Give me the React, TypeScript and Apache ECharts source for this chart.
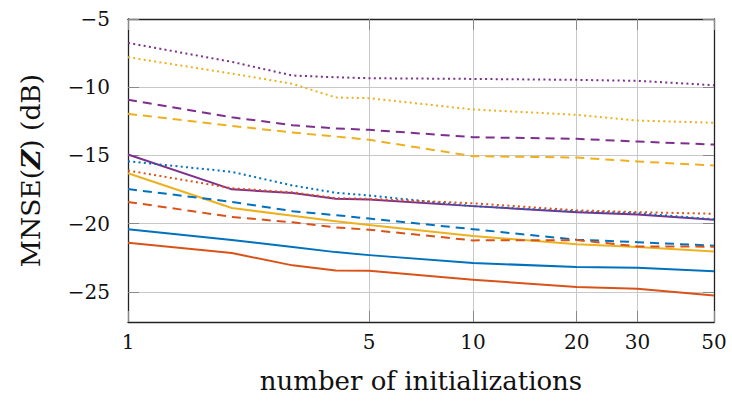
import React, { useEffect, useRef } from "react";
import * as echarts from "echarts";

const xValues = [1, 2, 3, 4, 5, 10, 20, 30, 50];
const xTickValues = [1, 5, 10, 20, 30, 50];
const yTickValues = [-25, -20, -15, -10, -5];

const blueSolid = [-20.4, -21.2, -21.7, -22.08, -22.3, -22.88, -23.17, -23.22, -23.49];
const orangeSolid = [-21.39, -22.15, -23.05, -23.42, -23.45, -24.1, -24.64, -24.76, -25.25];
const yellowSolid = [-16.3, -18.85, -19.42, -19.82, -20.1, -20.9, -21.5, -21.71, -22.03];
const purpleSolid = [-14.93, -17.48, -17.75, -18.17, -18.22, -18.71, -19.15, -19.32, -19.71];

const blueDashed = [-17.46, -18.4, -19.08, -19.37, -19.62, -20.4, -21.17, -21.35, -21.61];
const orangeDashed = [-18.4, -19.5, -19.9, -20.27, -20.44, -21.22, -21.2, -21.66, -21.68];
const yellowDashed = [-11.95, -12.83, -13.32, -13.61, -13.85, -15.05, -15.15, -15.44, -15.73];
const purpleDashed = [-10.92, -12.2, -12.78, -13.02, -13.12, -13.66, -13.78, -13.98, -14.2];

const blueDotted = [-15.42, -16.2, -17.2, -17.73, -17.93, -18.71, -19.1, -19.22, -19.68];
const orangeDotted = [-16.1, -17.4, -17.7, -18.12, -18.18, -18.5, -19.02, -19.15, -19.27];
const yellowDotted = [-7.8, -9.0, -9.75, -10.75, -10.8, -11.63, -12.02, -12.44, -12.6];
const purpleDotted = [-6.75, -8.14, -9.14, -9.27, -9.34, -9.39, -9.46, -9.53, -9.85];

const BLUE = "#0072BD";
const ORANGE = "#D95319";
const YELLOW = "#EDB120";
const PURPLE = "#7E2F8E";

const FONT = "DejaVu Serif";

const fmtMinus = (v: number) => (v < 0 ? "\u2212" + Math.abs(v) : String(v));

function mk(values: number[], color: string, style: "solid" | "dashed" | "dotted") {
  const type =
    style === "solid" ? "solid" : style === "dashed" ? [9, 6] : [2, 3.3];
  return {
    type: "line",
    data: xValues.map((x, i) => [x, values[i]]),
    showSymbol: false,
    symbol: "none",
    lineStyle: { color, width: 2, type, cap: "butt", join: "round" },
    itemStyle: { color },
    z: 3,
  };
}

export default function App() {
  const ref = useRef<HTMLDivElement>(null);
  useEffect(() => {
    if (!ref.current) return;
    const chart = echarts.init(ref.current, undefined, { renderer: "svg" });
    const tickStyle = { show: true, inside: true, length: 11, lineStyle: { color: "#888", width: 1 } };
    const axisLine = { show: true, onZero: false, lineStyle: { color: "#222", width: 1.3 } };
    chart.setOption({
      animation: false,
      backgroundColor: "#fff",
      grid: { left: 128, right: 18, top: 19, bottom: 81, containLabel: false },
      xAxis: [
        {
          type: "log",
          logBase: 10,
          min: 1,
          max: 50,
          axisLine,
          axisTick: { ...tickStyle, customValues: xTickValues },
          axisLabel: {
            customValues: xTickValues,
            fontFamily: FONT,
            fontSize: 20,
            color: "#111",
            margin: 10,
            formatter: (v: number) => String(Math.round(v)),
          },
          splitLine: { show: true, lineStyle: { color: "#c8c8c8", width: 1 } },
          minorSplitLine: { show: false },
          name: "number of initializations",
          nameLocation: "middle",
          nameGap: 46,
          nameTextStyle: { fontFamily: FONT, fontSize: 26, color: "#111" },
        },
        {
          type: "log",
          logBase: 10,
          min: 1,
          max: 50,
          position: "top",
          axisLine,
          axisTick: { ...tickStyle, customValues: xTickValues },
          axisLabel: { show: false },
          splitLine: { show: false },
        },
      ],
      yAxis: [
        {
          type: "value",
          min: -27.2,
          max: -5,
          axisLine,
          axisTick: { ...tickStyle, customValues: yTickValues },
          axisLabel: {
            customValues: yTickValues,
            fontFamily: FONT,
            fontSize: 20,
            color: "#111",
            margin: 18,
            formatter: (v: number) => fmtMinus(v),
          },
          splitLine: { show: true, lineStyle: { color: "#c8c8c8", width: 1 } },
          name: "MNSE({z|Z}) (dB)",
          nameLocation: "middle",
          nameGap: 84,
          nameRotate: 90,
          nameTextStyle: {
            fontFamily: FONT,
            fontSize: 26.5,
            color: "#111",
            rich: {
              z: { fontFamily: FONT, fontSize: 26.5, fontWeight: "bold", fontStyle: "italic", color: "#111" },
            },
          },
        },
        {
          type: "value",
          min: -27.2,
          max: -5,
          position: "right",
          axisLine,
          axisTick: { ...tickStyle, customValues: yTickValues },
          axisLabel: { show: false },
          splitLine: { show: false },
        },
      ],
      series: [
        mk(blueSolid, BLUE, "solid"),
        mk(orangeSolid, ORANGE, "solid"),
        mk(yellowSolid, YELLOW, "solid"),
        mk(purpleSolid, PURPLE, "solid"),
        mk(blueDashed, BLUE, "dashed"),
        mk(orangeDashed, ORANGE, "dashed"),
        mk(yellowDashed, YELLOW, "dashed"),
        mk(purpleDashed, PURPLE, "dashed"),
        mk(blueDotted, BLUE, "dotted"),
        mk(orangeDotted, ORANGE, "dotted"),
        mk(yellowDotted, YELLOW, "dotted"),
        mk(purpleDotted, PURPLE, "dotted"),
      ],
    });
    return () => chart.dispose();
  }, []);
  return (
    <div
      ref={ref}
      style={{ position: "fixed", left: 0, top: 0, width: 732, height: 403, background: "#fff" }}
    />
  );
}
